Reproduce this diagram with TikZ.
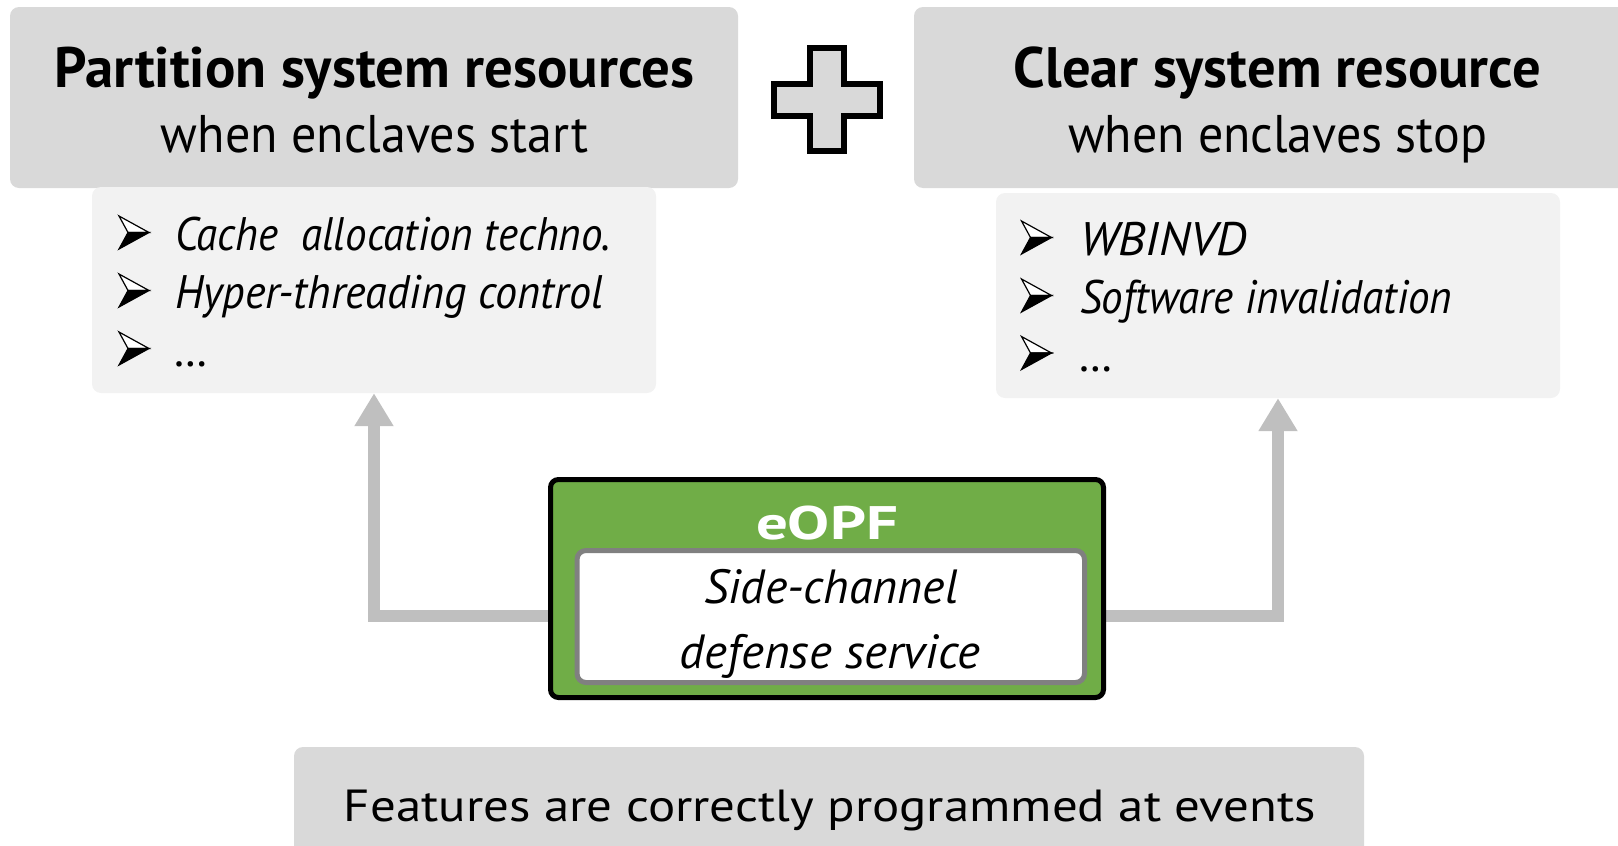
\documentclass[tikz,border=0pt]{standalone}
\usepackage{fontspec}
\usepackage{graphicx}
\setmainfont{PT Sans}
\usetikzlibrary{arrows.meta,backgrounds}

\definecolor{headgray}{HTML}{D9D9D9}
\definecolor{listgray}{HTML}{F2F2F2}
\definecolor{wiregray}{HTML}{BFBFBF}
\definecolor{framegray}{HTML}{808080}
\definecolor{eopfgreen}{HTML}{70AD47}

\newcommand\headfont{\fontsize{57}{60}\selectfont\bfseries}
\newcommand\subfont{\fontsize{53}{60}\selectfont}
\newcommand\itemfont{\fontsize{47}{52}\selectfont\itshape}
\newcommand\svcfont{\fontsize{48}{52}\selectfont\itshape}
\newcommand\eopffont{\fontsize{47}{52}\selectfont\bfseries}
\newcommand\notefont{\fontsize{45}{50}\selectfont}
% set a line of text to a given width (in pt), keeping its height
\newcommand\fitw[2]{\resizebox{#1pt}{\height}{#2}}

\begin{document}
\begin{tikzpicture}[x=1pt,y=-1pt,
  headbox/.style={fill=headgray,draw=none,rounded corners=9pt,inner sep=0pt},
  listbox/.style={fill=listgray,draw=none,rounded corners=9pt,inner sep=0pt},
  label/.style={inner sep=0pt,outer sep=0pt,anchor=base},
  itemtext/.style={inner sep=0pt,outer sep=0pt,anchor=base west,font=\itemfont},
  conn/.style={draw=wiregray,line width=12pt,-{Triangle[width=37pt,length=33pt]}},
  arrowbullet/.pic={
    \filldraw[fill=white,draw=black,line width=1.2pt,line join=miter]
      (-15,-16.5) -- (15,0) -- (-6,0) -- cycle;
    \filldraw[fill=black,draw=black,line width=1.2pt,line join=miter]
      (-6,0) -- (15,0) -- (-15,16.5) -- cycle;
  }]
\clip (0,0) rectangle (1618,846);

% headline boxes
\node[headbox,minimum width=728pt,minimum height=181pt] (lhead) at (374,97.5) {};
\node[headbox,minimum width=727pt,minimum height=181pt] (rhead) at (1277.5,97.5) {};
\node[label,font=\headfont] (lheadtitle) at (374.5,87) {\fitw{640}{Partition system resources}};
\node[label,font=\subfont] (lheadsub) at (374.5,152) {\fitw{427}{when enclaves start}};
\node[label,font=\headfont] (rheadtitle) at (1277.5,87) {\fitw{527}{Clear system resource}};
\node[label,font=\subfont] (rheadsub) at (1277.5,152) {\fitw{419}{when enclaves stop}};

% plus sign between the two headlines
\filldraw[fill=headgray,draw=black,line width=5.5pt,line join=miter]
  (810,48) -- (844,48) -- (844,84) -- (880,84) -- (880,116) -- (844,116)
  -- (844,151) -- (810,151) -- (810,116) -- (774,116) -- (774,84)
  -- (810,84) -- cycle;

% feature lists
\node[listbox,minimum width=564pt,minimum height=206pt] (llist) at (374,290) {};
\node[listbox,minimum width=564pt,minimum height=205pt] (rlist) at (1278,295.5) {};

\pic at (134,232.5) {arrowbullet};
\pic at (134,290.5) {arrowbullet};
\pic at (134,348.5) {arrowbullet};
\node[itemtext] (lone) at (175,250) {\fitw{436}{Cache\ \ allocation techno.}};
\node[itemtext] (ltwo) at (175,308) {\fitw{428}{Hyper-threading control}};
\node[itemtext] (lthree) at (175,366) {\dots};

\pic at (1036.5,237.5) {arrowbullet};
\pic at (1036.5,295.5) {arrowbullet};
\pic at (1036.5,353) {arrowbullet};
\node[itemtext] (rone) at (1080,255) {\fitw{167}{WBINVD}};
\node[itemtext] (rtwo) at (1080,313) {\fitw{372}{Software invalidation}};
\node[itemtext] (rthree) at (1080,371) {\dots};

% eOPF service block
\node[fill=eopfgreen,draw=black,line width=5pt,rounded corners=8pt,
      minimum width=553pt,minimum height=218pt,inner sep=0pt] (eopf) at (827,588.5) {};
\node[label,font=\eopffont,text=white] (eopftitle) at (827,539) {\fitw{142}{eOPF}};
\node[fill=white,draw=framegray,line width=5pt,rounded corners=9pt,
      minimum width=507.5pt,minimum height=132pt,inner sep=0pt] (svc) at (830.75,616.5) {};
\node[label,font=\svcfont] (svcone) at (831,603) {\fitw{254}{Side-channel}};
\node[label,font=\svcfont] (svctwo) at (830,668) {\fitw{300}{defense service}};

% connectors from the service to both lists
\begin{scope}[on background layer]
  \draw[conn] ([yshift=-27pt]eopf.west) -| (llist.south);
  \draw[conn] ([yshift=-27pt]eopf.east) -| (rlist.south);
\end{scope}

% bottom note
\node[headbox,minimum width=1070pt,minimum height=140pt] (note) at (829,817) {};
\node[label,font=\notefont] (notetext) at (830,821) {\fitw{972}{Features are correctly programmed at events}};
\end{tikzpicture}
\end{document}
